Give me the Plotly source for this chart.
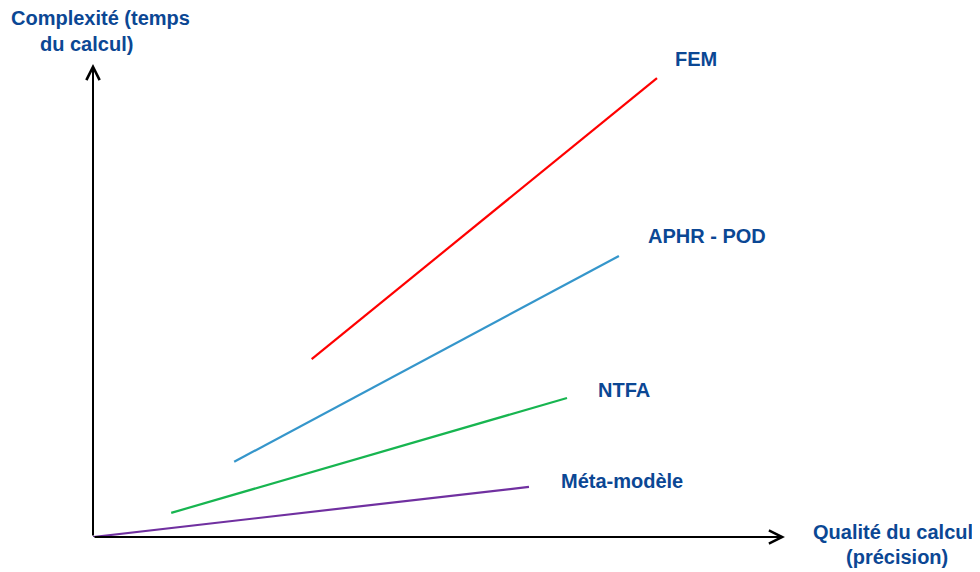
import plotly.graph_objects as go

# ---- data (abstract units: quality 0-100, complexity 0-100) ----
fem_x = [31.6, 81.5]
fem_y = [37.6, 97.0]
aphr_x = [20.4, 76.0]
aphr_y = [15.9, 59.4]
ntfa_x = [11.3, 68.5]
ntfa_y = [5.1, 29.4]
meta_x = [0.0, 63.0]
meta_y = [0.0, 10.6]

series_names = ["FEM", "APHR - POD", "NTFA", "Méta-modèle"]
series_x = [fem_x, aphr_x, ntfa_x, meta_x]
series_y = [fem_y, aphr_y, ntfa_y, meta_y]
series_colors = ["#FF0000", "#3596CB", "#17B550", "#7030A0"]
label_x = [87.2, 88.8, 76.7, 76.5]
label_y = [101.1, 63.7, 31.1, 11.8]

y_title = ["Complexité (temps", "du calcul)"]
x_title = ["Qualité du calcul", "(précision)"]

TEXT_COLOR = "#0B4794"
FONT = "Liberation Sans, Arial, sans-serif"

# page body has an 8px default margin
OX, OY = 8, 8
W, H = 980 - OX, 572 - OY
L, R, T, B = 93 - OX, 195, 64 - OY, 35
PW, PH = W - L - R, H - T - B


def px2paper(px, py):
    return (px - OX - L) / PW, (H - B - (py - OY)) / PH


fig = go.Figure()
for name, xs, ys, c in zip(series_names, series_x, series_y, series_colors):
    fig.add_trace(go.Scatter(x=xs, y=ys, mode="lines", name=name,
                             line=dict(color=c, width=2.2), showlegend=False,
                             hoverinfo="skip"))

annotations = []
for name, lx, ly in zip(series_names, label_x, label_y):
    annotations.append(dict(x=lx / 100, y=ly / 100, xref="paper", yref="paper",
                            text="<b>%s</b>" % name,
                            showarrow=False, xanchor="center", yanchor="middle",
                            font=dict(family=FONT, size=20, color=TEXT_COLOR)))

# axis titles
for txt, (px, py) in zip(y_title, [(100, 18), (86.5, 43.5)]):
    xp, yp = px2paper(px, py)
    annotations.append(dict(x=xp, y=yp, xref="paper", yref="paper", text="<b>%s</b>" % txt,
                            showarrow=False, xanchor="center", yanchor="middle",
                            font=dict(family=FONT, size=20, color=TEXT_COLOR)))
for txt, (px, py) in zip(x_title, [(893, 531.5), (897, 557)]):
    xp, yp = px2paper(px, py)
    annotations.append(dict(x=xp, y=yp, xref="paper", yref="paper", text="<b>%s</b>" % txt,
                            showarrow=False, xanchor="center", yanchor="middle",
                            font=dict(family=FONT, size=20, color=TEXT_COLOR)))

# axes with arrows
annotations.append(dict(x=100, y=0, ax=0, ay=0, xref="x", yref="y", axref="x", ayref="y",
                        text="", showarrow=True, arrowhead=5, arrowsize=1.3,
                        arrowwidth=2, arrowcolor="black", standoff=0, startstandoff=0))
annotations.append(dict(x=0, y=100, ax=0, ay=0, xref="x", yref="y", axref="x", ayref="y",
                        text="", showarrow=True, arrowhead=5, arrowsize=1.3,
                        arrowwidth=2, arrowcolor="black", standoff=0, startstandoff=0))

fig.update_layout(
    width=W, height=H,
    margin=dict(l=L, r=R, t=T, b=B, pad=0),
    paper_bgcolor="white", plot_bgcolor="white",
    xaxis=dict(range=[0, 100], visible=False, fixedrange=True),
    yaxis=dict(range=[0, 100], visible=False, fixedrange=True),
    annotations=annotations,
    showlegend=False,
)

fig.write_html("out.html")
